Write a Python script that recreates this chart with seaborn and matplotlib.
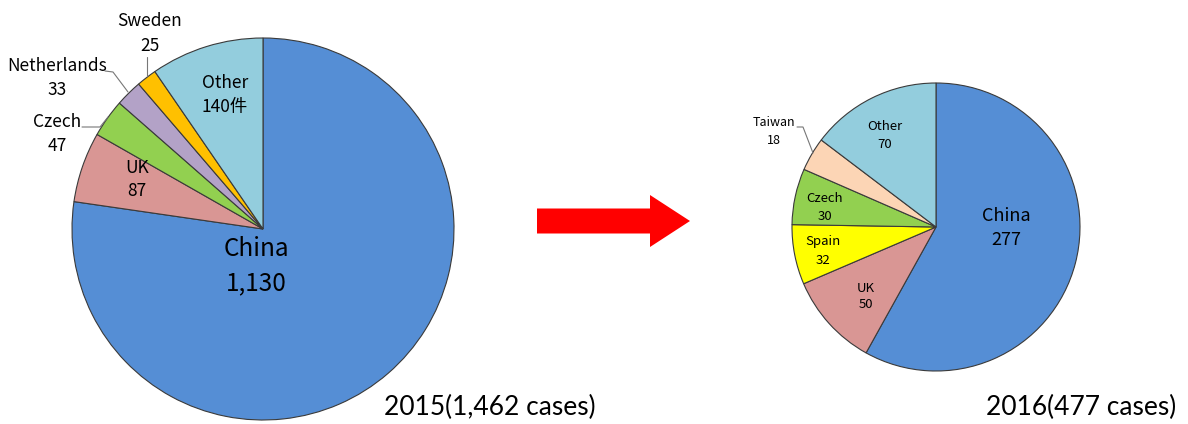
import seaborn as sns
from matplotlib import pyplot as plt

# 2015 data
countries_2015 = ['China', 'UK', 'Czech', 'Netherlands', 'Sweden', 'Other']
cases_2015 = [1130, 87, 47, 33, 25, 140]
value_text_2015 = ['1,130', '87', '47', '33', '25', '140件']

# 2016 data
countries_2016 = ['China', 'UK', 'Spain', 'Czech', 'Taiwan', 'Other']
cases_2016 = [277, 50, 32, 30, 18, 70]
value_text_2016 = ['277', '50', '32', '30', '18', '70']

colors = {'China': '#558ED5', 'UK': '#D99694', 'Czech': '#92D050',
          'Netherlands': '#B3A2C7', 'Sweden': '#FFC000', 'Other': '#93CDDD',
          'Spain': '#FFFF00', 'Taiwan': '#FCD5B5'}

sns.set_theme(style='white')
plt.rcParams['font.family'] = ['Noto Sans CJK JP', 'DejaVu Sans']

W, H = 1188, 424
fig = plt.figure(figsize=(W / 100, H / 100), dpi=100)
ax = fig.add_axes([0, 0, 1, 1])


def Y(py):
    # pixel row (from top) -> data y
    return H - py


def draw_pie(names, values, center, radius):
    ax.pie(values, colors=[colors[n] for n in names], startangle=90,
           counterclock=False, center=(center[0], Y(center[1])), radius=radius,
           wedgeprops={'edgecolor': '#3a3a3a', 'linewidth': 0.8})


draw_pie(countries_2015, cases_2015, (263, 229), 191)
draw_pie(countries_2016, cases_2016, (936, 227), 144)

# pie() resets the limits, so set the pixel frame afterwards
ax.set_xlim(0, W)
ax.set_ylim(0, H)
ax.set_aspect('equal')
ax.axis('off')

# label placement (pixel coords of name / value lines, font size)
pos_2015 = {'China': (256, 249, 283, 17.5), 'UK': (137, 168, 191, 12.5),
            'Czech': (57, 122, 146, 12.5), 'Netherlands': (57, 66, 90, 12.5),
            'Sweden': (150, 21, 46, 12.5), 'Other': (225, 83, 107, 12.5)}
pos_2016 = {'China': (1006, 216, 240, 13), 'UK': (866, 288, 305, 9.5),
            'Spain': (823, 241, 261, 9.5), 'Czech': (825, 199, 217, 9.5),
            'Taiwan': (774, 122, 140, 9), 'Other': (885, 127, 145, 9.5)}

for names, vals, pos in [(countries_2015, value_text_2015, pos_2015),
                         (countries_2016, value_text_2016, pos_2016)]:
    for n, v in zip(names, vals):
        x, y1, y2, fs = pos[n]
        ax.text(x, Y(y1), n, ha='center', va='center', fontsize=fs, color='black')
        ax.text(x, Y(y2), v, ha='center', va='center', fontsize=fs, color='black')

# leader lines for the small outside slices
leaders = [[(82, 127), (100, 127), (108, 117)],
           [(105, 71), (113, 72), (128, 92)],
           [(147, 57), (147, 76)],
           [(797, 127), (803, 127), (813, 153)]]
for pts in leaders:
    ax.plot([p[0] for p in pts], [Y(p[1]) for p in pts], color='#777777', lw=0.8)

# arrow between the pies
ax.arrow(537, Y(221), 153, 0, width=25, head_width=52, head_length=40,
         length_includes_head=True, color='#FF0000', linewidth=0)

ax.text(490, Y(407), '2015(1,462 cases)', ha='center', va='center',
        fontsize=19, family=['Lato', 'DejaVu Sans'], color='black')
ax.text(1081, Y(407), '2016(477 cases)', ha='center', va='center',
        fontsize=19, family=['Lato', 'DejaVu Sans'], color='black')

fig.savefig('out.png', dpi=100)
